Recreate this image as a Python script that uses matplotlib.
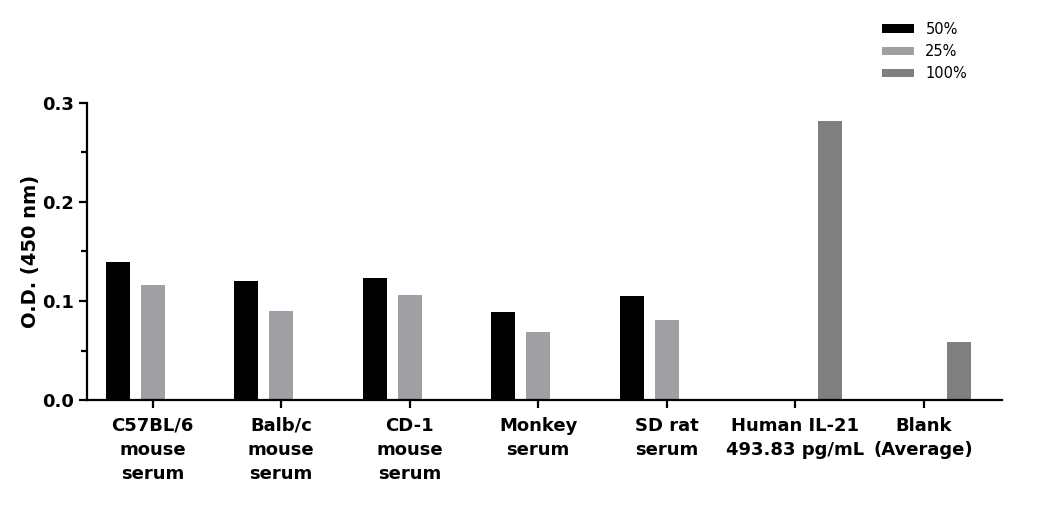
import numpy as np
import matplotlib
matplotlib.use("Agg")
import matplotlib.pyplot as plt
from matplotlib.ticker import MultipleLocator

# data
categories = ["C57BL/6\nmouse\nserum", "Balb/c\nmouse\nserum", "CD-1\nmouse\nserum",
              "Monkey\nserum", "SD rat\nserum", "Human IL-21\n493.83 pg/mL", "Blank\n(Average)"]
series_names = ["50%", "25%", "100%"]
vals_50 = [0.139, 0.120, 0.123, 0.089, 0.105, np.nan, np.nan]
vals_25 = [0.116, 0.090, 0.106, 0.069, 0.081, np.nan, np.nan]
vals_100 = [np.nan, np.nan, np.nan, np.nan, np.nan, 0.282, 0.059]
colors = ["#000000", "#a0a0a4", "#808080"]

plt.rcParams['font.family'] = ['DejaVu Sans']

fig = plt.figure(figsize=(10.57, 5.07), dpi=100)
ax = fig.add_axes([0.0823, 0.211, 0.8657, 0.586])

x = np.arange(len(categories))
w = 0.187
off = 0.272
for i, (vals, name) in enumerate(zip([vals_50, vals_25, vals_100], series_names)):
    ax.bar(x + (i - 1) * off, vals, width=w, color=colors[i], label=name)

ax.set_xlim(-0.51, 6.61)
ax.set_ylim(0, 0.3)
ax.yaxis.set_major_locator(MultipleLocator(0.1))
ax.yaxis.set_minor_locator(MultipleLocator(0.05))
ax.yaxis.set_major_formatter(matplotlib.ticker.FormatStrFormatter('%.1f'))

ax.set_xticks(x)
ax.set_xticklabels(categories, fontsize=13, fontweight='bold', linespacing=1.45)
for t in ax.get_yticklabels():
    t.set_fontsize(13)
    t.set_fontweight('bold')
ax.set_ylabel("O.D. (450 nm)", fontsize=14, fontweight='bold', labelpad=2)

for s in ['top', 'right']:
    ax.spines[s].set_visible(False)
for s in ['left', 'bottom']:
    ax.spines[s].set_linewidth(1.6)
ax.tick_params(axis='both', which='major', length=6, width=1.6, pad=3)
ax.tick_params(axis='x', which='major', pad=6)
ax.tick_params(axis='y', which='minor', length=4, width=1.6)

leg = ax.legend(loc='upper left', bbox_to_anchor=(0.854, 1.318), frameon=False,
                fontsize=10.5, handlelength=2.2, handleheight=0.5, labelspacing=0.5)

fig.savefig("out.png", dpi=100)
